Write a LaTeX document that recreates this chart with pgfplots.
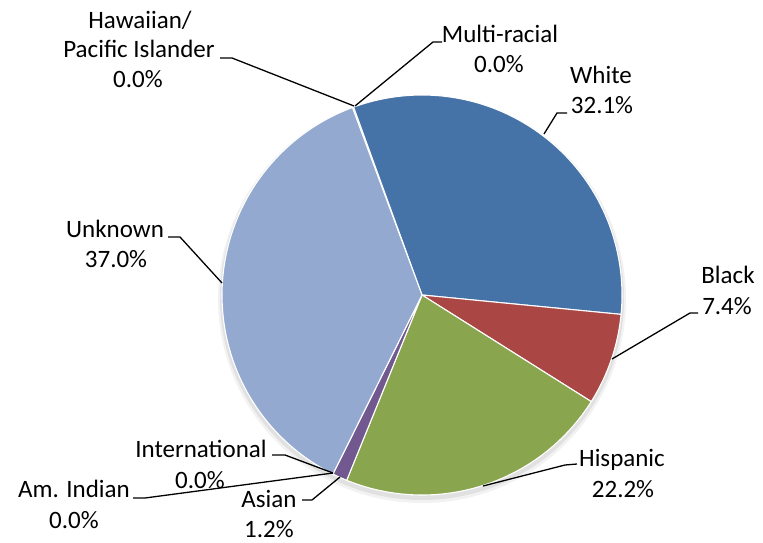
\documentclass[border=0pt]{standalone}
\usepackage{fontspec}
\setmainfont{Carlito}
\usepackage{pgfplots}
\pgfplotsset{compat=1.18}

\definecolor{cWhite}{HTML}{4572A7}
\definecolor{cBlack}{HTML}{AA4643}
\definecolor{cHisp}{HTML}{89A54E}
\definecolor{cAsian}{HTML}{71588F}
\definecolor{cUnkn}{HTML}{93A9CF}

% slice: start (%), value (%), colour; angle = 110 - 3.6*p, clockwise
\newcommand{\slice}[3]{%
  \pgfmathsetmacro\sliceend{#1+#2}
  \addplot[fill=#3, draw=white, line width=1.1pt, line join=round, mark=none,
    domain=#1:\sliceend, samples=90, variable=\t]
    ({422+200*cos(110-3.6*\t)}, {295-200*sin(110-3.6*\t)}) -- (axis cs:422,295) -- cycle;
}
\newcommand{\lbl}[3]{\node[anchor=base, inner sep=0pt,
  font=\fontsize{25bp}{30bp}\selectfont] at (axis cs:#1,#2) {#3};}

\begin{document}
\begin{tikzpicture}
\begin{axis}[
    scale only axis,
    width=763bp, height=543bp,
    xmin=0, xmax=763, ymin=0, ymax=543,
    y dir=reverse,
    hide axis,
    clip=false,
]
\path (axis cs:0,0) rectangle (axis cs:763,543);
% soft shadow
\fill[black, opacity=0.05] (axis cs:422,299) circle[radius=204bp];
\fill[black, opacity=0.07] (axis cs:422,298) circle[radius=202bp];

% White 32.1, Black 7.4, Hispanic 22.2, Asian 1.2, Am. Indian 0.0,
% International 0.0, Unknown 37.0, Hawaiian/Pacific Islander 0.0, Multi-racial 0.0
\slice{0}{32.1}{cWhite}
\slice{32.1}{7.4}{cBlack}
\slice{39.5}{22.2}{cHisp}
\slice{61.7}{1.2}{cAsian}
\slice{62.9}{37.0}{cUnkn}

% leader lines
\begin{scope}[line width=1.3pt, black]
\draw (axis cs:220,58) -- (axis cs:232,58) -- (axis cs:354,106);
\draw (axis cs:442,42) -- (axis cs:433,42) -- (axis cs:355,106);
\draw (axis cs:567,113) -- (axis cs:557,113) -- (axis cs:544,134);
\draw (axis cs:698,313) -- (axis cs:690,313) -- (axis cs:612,359);
\draw (axis cs:577,464) -- (axis cs:565,465) -- (axis cs:483,486);
\draw (axis cs:168,237) -- (axis cs:180,237) -- (axis cs:222,283);
\draw (axis cs:272,455) -- (axis cs:285,455) -- (axis cs:333,473);
\draw (axis cs:133,498) -- (axis cs:145,498) -- (axis cs:333,473);
\draw (axis cs:302,500) -- (axis cs:312,500) -- (axis cs:340,477);
\end{scope}

% labels
\lbl{140}{29}{Hawaiian/}
\lbl{139}{58}{Pacific Islander}
\lbl{138}{88}{0.0\%}
\lbl{500}{43}{Multi-racial}
\lbl{499}{73}{0.0\%}
\lbl{601}{84}{White}
\lbl{602}{113}{32.1\%}
\lbl{728}{283}{Black}
\lbl{727}{314}{7.4\%}
\lbl{622}{466}{Hispanic}
\lbl{623}{497}{22.2\%}
\lbl{115}{237}{Unknown}
\lbl{116}{267}{37.0\%}
\lbl{201}{457}{International}
\lbl{200}{488}{0.0\%}
\lbl{74}{497}{Am. Indian}
\lbl{74}{528}{0.0\%}
\lbl{269}{507}{Asian}
\lbl{269}{537}{1.2\%}
\end{axis}
\end{tikzpicture}
\end{document}
